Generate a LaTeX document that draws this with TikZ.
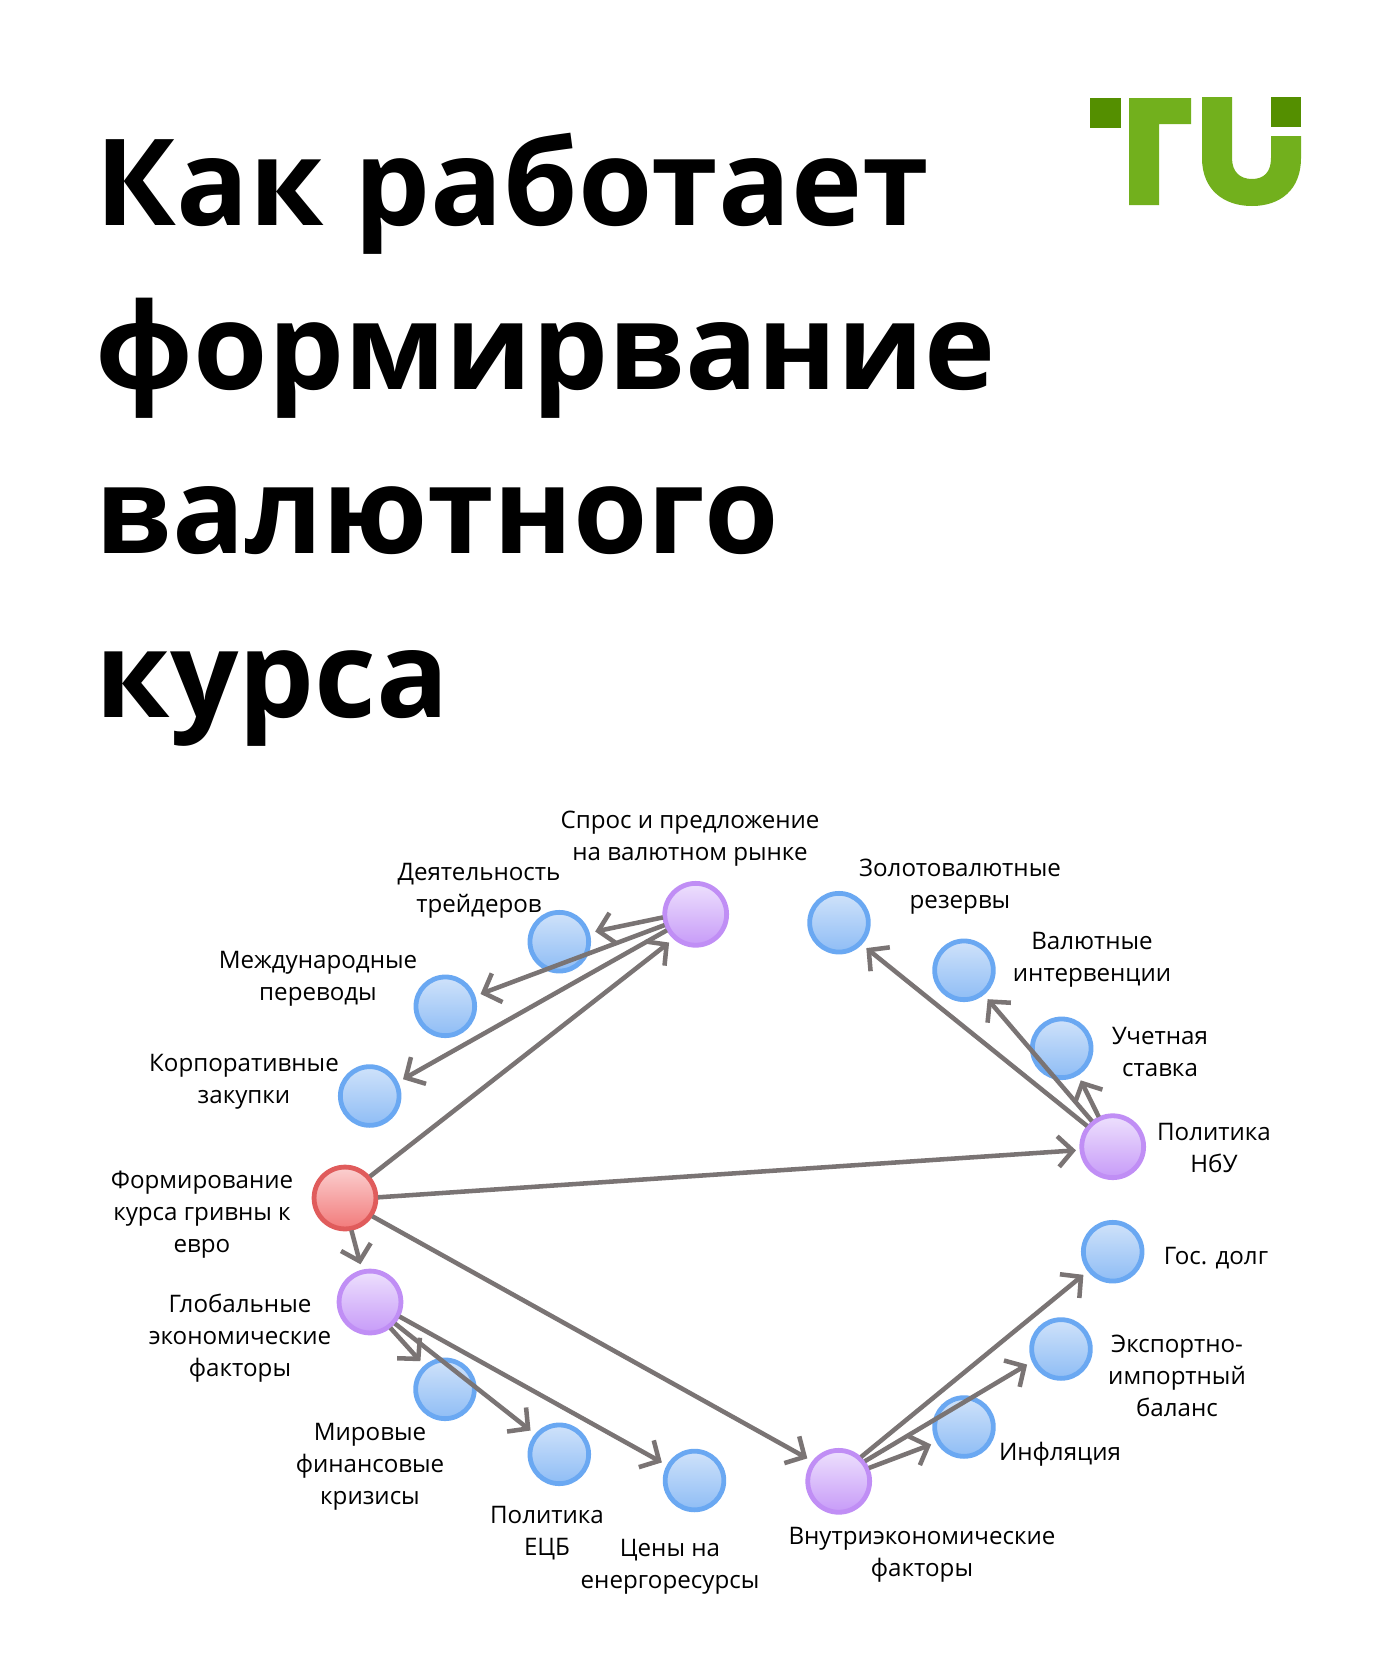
\documentclass[tikz,border=0pt]{standalone}
\usepackage{fontspec}
\setmainfont{Open Sans}
\usetikzlibrary{arrows.meta}
\definecolor{linegrey}{HTML}{7A7474}
\definecolor{logolight}{HTML}{72B01D}
\definecolor{logodark}{HTML}{548F00}
\definecolor{HTMLblue}{HTML}{6AA8F2}
\definecolor{HTMLbluetop}{HTML}{CFE2FA}
\definecolor{HTMLbluebot}{HTML}{8FBDF5}
\definecolor{HTMLpurple}{HTML}{C08EF5}
\definecolor{HTMLpurpletop}{HTML}{EDE0FD}
\definecolor{HTMLpurplebot}{HTML}{C79BF8}
\definecolor{HTMLred}{HTML}{E05C5C}
\definecolor{HTMLredtop}{HTML}{FBD0D0}
\definecolor{HTMLredbot}{HTML}{F27A7A}
\tikzset{
  dot/.style={circle,draw,line width=3.6pt,inner sep=0pt,outer sep=0pt},
  bluedot/.style={dot,minimum size=44pt,draw=HTMLblue,top color=HTMLbluetop,bottom color=HTMLbluebot},
  purpledot/.style={dot,minimum size=46.4pt,draw=HTMLpurple,top color=HTMLpurpletop,bottom color=HTMLpurplebot},
  reddot/.style={dot,minimum size=46.4pt,draw=HTMLred,top color=HTMLredtop,bottom color=HTMLredbot},
  lbl/.style={align=center,font=\fontsize{18.1}{24}\selectfont,text=black,inner sep=0pt},
  arrowline/.style={draw=linegrey,line width=3.4pt,line join=round,
    -{Straight Barb[length=11pt,width=23pt,line width=3.4pt]},shorten >=6pt,shorten <=1.5pt},
  titletext/.style={align=left,anchor=north west,inner sep=0pt,font=\fontsize{90.2}{123}\bfseries\selectfont,text=black}
}
\begin{document}
\begin{tikzpicture}[x=0.75pt,y=-0.75pt]
\useasboundingbox (0,0) rectangle (1400,1672);
\fill[white] (0,0) rectangle (1400,1672);
% logo
\fill[logodark] (1090,98) rectangle (1121,128);
\fill[logodark] (1271,97) rectangle (1301,127);
\fill[logolight] (1129,98) -- (1191,98) -- (1191,124) -- (1159,124) -- (1159,205) -- (1129,205) -- cycle;
\fill[logolight] (1202,97) -- (1232,97) -- (1232,158) .. controls (1232,172) and (1240,179) .. (1252,179)
  .. controls (1264,179) and (1271,172) .. (1271,158) -- (1271,136) -- (1301,136) -- (1301,158)
  .. controls (1301,190) and (1280,206) .. (1252,206) .. controls (1224,206) and (1202,190) .. (1202,158) -- cycle;
% title
\node[titletext] (title) at (95.5,133) {Как работает\\формирвание\\валютного\\курса};
% circles
\node[reddot] (core) at (345,1198) {};
\node[purpledot] (global) at (370,1302) {};
\node[purpledot] (demand) at (695.7,914.3) {};
\node[purpledot] (nbu) at (1112.7,1146.7) {};
\node[purpledot] (inner) at (838.7,1481.3) {};
\node[bluedot] (traders) at (559.3,941.7) {};
\node[bluedot] (transfers) at (445.3,1006.3) {};
\node[bluedot] (corp) at (369.7,1096) {};
\node[bluedot] (crisis) at (445,1389.3) {};
\node[bluedot] (ecb) at (559.3,1454.3) {};
\node[bluedot] (energy) at (694.5,1480.5) {};
\node[bluedot] (inflation) at (964,1427) {};
\node[bluedot] (trade) at (1061,1349) {};
\node[bluedot] (debt) at (1112.7,1251.7) {};
\node[bluedot] (rate) at (1061.7,1048.3) {};
\node[bluedot] (interv) at (964,970.3) {};
\node[bluedot] (reserves) at (839,922.7) {};
% connectors
\draw[arrowline] (core.41) -- (demand.229);
\draw[arrowline,shorten >=4.5pt] (core.1) -- (nbu.186);
\draw[arrowline] (core.-34) -- (inner.142);
\draw[arrowline] (core.-79) -- (global.104);
\draw[arrowline] (demand.185) -- (traders.17);
\draw[arrowline] (demand.199) -- (transfers.19);
\draw[arrowline] (demand.209) -- (corp.26);
\draw[arrowline] (nbu.115) -- (rate.-58);
\draw[arrowline] (nbu.129) -- (interv.-51);
\draw[arrowline] (nbu.141) -- (reserves.-44);
\draw[arrowline] (global.-52) -- (crisis.131);
\draw[arrowline] (global.-41) -- (ecb.140);
\draw[arrowline] (global.-26) -- (energy.151);
\draw[arrowline] (inner.24) -- (inflation.210);
\draw[arrowline] (inner.38) -- (trade.203);
\draw[arrowline] (inner.48) -- (debt.218);
% labels
\node[lbl] (lcore) at (202,1215) {Формирование\\курса гривны к\\евро};
\node[lbl] (lglobal) at (240,1338) {Глобальные\\экономические\\факторы};
\node[lbl] (ldemand) at (690,839) {Спрос и предложение\\на валютном рынке};
\node[lbl] (ltraders) at (479,891) {Деятельность\\трейдеров};
\node[lbl] (ltransfers) at (318,979) {Международные\\переводы};
\node[lbl] (lcorp) at (244,1082) {Корпоративные\\закупки};
\node[lbl] (lcrisis) at (370,1467) {Мировые\\финансовые\\кризисы};
\node[lbl] (lecb) at (547,1533) {Политика\\ЕЦБ};
\node[lbl] (lenergy) at (670,1567) {Цены на\\енергоресурсы};
\node[lbl] (linner) at (922,1555) {Внутриэкономические\\факторы};
\node[lbl] (linflation) at (1060,1454) {Инфляция};
\node[lbl] (ltrade) at (1177,1376) {Экспортно-\\импортный\\баланс};
\node[lbl] (ldebt) at (1216,1258) {Гос. долг};
\node[lbl] (lnbu) at (1214,1148) {Политика\\НбУ};
\node[lbl] (lrate) at (1160,1052) {Учетная\\ставка};
\node[lbl] (linterv) at (1092,959.5) {Валютные\\интервенции};
\node[lbl] (lreserves) at (960,887) {Золотовалютные\\резервы};
\end{tikzpicture}
\end{document}
